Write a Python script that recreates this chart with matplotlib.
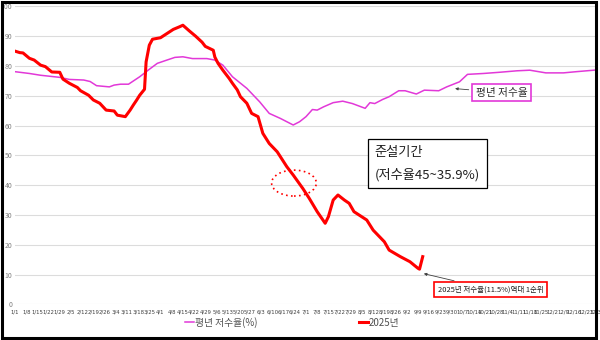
import matplotlib
matplotlib.use('Agg')
from matplotlib import pyplot as plt
from matplotlib.patches import Ellipse, Rectangle

plt.rcParams['font.family'] = ['Noto Sans CJK KR', 'DejaVu Sans']

# 1/1 부터 주 단위 눈금
tick_days = list(range(0, 365, 7))
tick_labels = ['1/1', '1/8', '1/15', '1/22', '1/29', '2/5', '2/12', '2/19', '2/26',
               '3/4', '3/11', '3/18', '3/25', '4/1', '4/8', '4/15', '4/22', '4/29',
               '5/6', '5/13', '5/20', '5/27', '6/3', '6/10', '6/17', '6/24',
               '7/1', '7/8', '7/15', '7/22', '7/29', '8/5', '8/12', '8/19', '8/26',
               '9/2', '9/9', '9/16', '9/23', '9/30', '10/7', '10/14', '10/21', '10/28',
               '11/4', '11/11', '11/18', '11/25', '12/2', '12/9', '12/16', '12/23', '12/30']

# 평년 저수율(%)
avg_days = [0, 9, 16, 28, 34, 43, 47, 51, 59, 62, 66, 71, 78, 84, 89, 95, 100, 105,
            111, 116, 120, 125, 130, 136, 145, 153, 159, 166, 174, 178, 182, 186, 189,
            193, 199, 205, 211, 219, 222, 225, 230, 234, 240, 244, 251, 256, 265, 270,
            278, 283, 293, 303, 314, 322, 332, 343, 351, 362, 364]
avg_vals = [78.1, 77.5, 76.9, 76.2, 75.5, 75.3, 74.8, 73.4, 73.0, 73.6, 73.9, 73.9,
            76.4, 78.9, 80.9, 82.0, 82.9, 83.1, 82.5, 82.5, 82.5, 82.0, 80.3, 76.4,
            72.5, 68.0, 64.1, 62.4, 60.2, 61.3, 63.0, 65.4, 65.2, 66.3, 67.7, 68.2,
            67.4, 65.8, 67.7, 67.4, 68.8, 69.7, 71.7, 71.7, 70.6, 71.9, 71.7, 73.0,
            74.7, 77.2, 77.5, 77.9, 78.4, 78.6, 77.7, 77.7, 78.1, 78.6, 78.7]

# 2025년 저수율(%)
y25_days = [0, 3, 5, 9, 12, 16, 19, 23, 28, 30, 34, 39, 41, 46, 49, 53, 57, 62, 64,
            69, 72, 74, 76, 78, 81, 82, 84, 86, 91, 95, 99, 103, 105, 109, 113, 117,
            119, 124, 125, 127, 130, 134, 136, 139, 141, 145, 148, 152, 155, 159, 164,
            170, 174, 180, 184, 189, 194, 196, 199, 202, 206, 209, 212, 220, 224, 231,
            234, 241, 247, 252, 253, 255]
y25_vals = [85.0, 84.5, 84.4, 82.6, 82.0, 80.3, 79.8, 78.0, 77.9, 75.6, 74.2, 72.8,
            71.7, 70.2, 68.6, 67.5, 65.2, 64.9, 63.5, 63.0, 65.2, 66.9, 68.5, 70.2,
            72.2, 81.4, 87.0, 89.0, 89.5, 90.9, 92.3, 93.2, 93.7, 91.8, 90.0, 88.0,
            86.6, 85.3, 83.0, 80.9, 78.6, 75.8, 74.2, 72.0, 69.7, 67.5, 64.1, 63.0,
            57.4, 54.0, 51.2, 46.2, 43.4, 38.9, 35.6, 31.1, 27.2, 29.4, 35.0, 36.7,
            35.0, 33.9, 31.1, 28.3, 24.9, 21.0, 18.2, 16.0, 14.3, 12.1, 11.8, 16.0]

fig = plt.figure(figsize=(6, 3.4), dpi=100)
ax = fig.add_axes([0.025, 0.105, 0.97, 0.876])

ax.plot(avg_days, avg_vals, color='#E238D8', lw=1.1, label='평년 저수율(%)', zorder=3)
ax.plot(y25_days, y25_vals, color='#FF0000', lw=2.2, label='2025년', zorder=4)

ax.set_xlim(0, 364)
ax.set_ylim(0, 100)
ax.set_yticks(range(0, 101, 10))
ax.set_xticks(tick_days)
ax.set_xticklabels(tick_labels, fontsize=3.9, family='DejaVu Sans')
ax.tick_params(axis='y', labelsize=5, colors='#808080', length=0, pad=2)
ax.tick_params(axis='x', colors='#404040', length=0, pad=4)
ax.grid(axis='y', color='#DCDCDC', lw=0.8)
ax.set_axisbelow(True)
for s in ax.spines.values():
    s.set_visible(False)

# 준설기간 표시
ax.add_patch(Ellipse((174.5, 40.7), 28, 8.7, fill=False, ec='#FF0000', lw=1.2,
                     ls=(0, (1, 2)), zorder=5))
ax.text(225, 47.2, '준설기간\n(저수율45~35.9%)', fontsize=9.5, color='#202020',
        va='center', ha='left', linespacing=1.9,
        bbox=dict(boxstyle='square,pad=0.5', fc='white', ec='black', lw=0.9))

ax.annotate('평년 저수율', xy=(273.5, 72.5), xytext=(304.4, 71.1),
            fontsize=7.7, color='#303030', ha='center', va='center',
            bbox=dict(boxstyle='square,pad=0.35', fc='white', ec='#E238D8', lw=1.2),
            arrowprops=dict(arrowstyle='-|>', color='#404040', lw=0.6, mutation_scale=4))

ax.annotate('2025년 저수율(11.5%)역대 1순위', xy=(254, 10.5), xytext=(297.5, 5.0),
            fontsize=5.4, color='#202020', ha='center', va='center',
            bbox=dict(boxstyle='square,pad=0.45', fc='white', ec='#FF0000', lw=1.2),
            arrowprops=dict(arrowstyle='-|>', color='#404040', lw=0.6, mutation_scale=4))

fig.legend(loc='center', bbox_to_anchor=(0.487, 0.052), ncol=2, frameon=False,
           fontsize=7, handlelength=0.9, handletextpad=0.1, columnspacing=10.5,
           labelcolor='#505050')

# 바깥 테두리
fig.patches.append(Rectangle((0.004, 0.006), 0.989, 0.988, transform=fig.transFigure,
                             fill=False, ec='black', lw=2.2))

plt.savefig('out.png', dpi=100)
